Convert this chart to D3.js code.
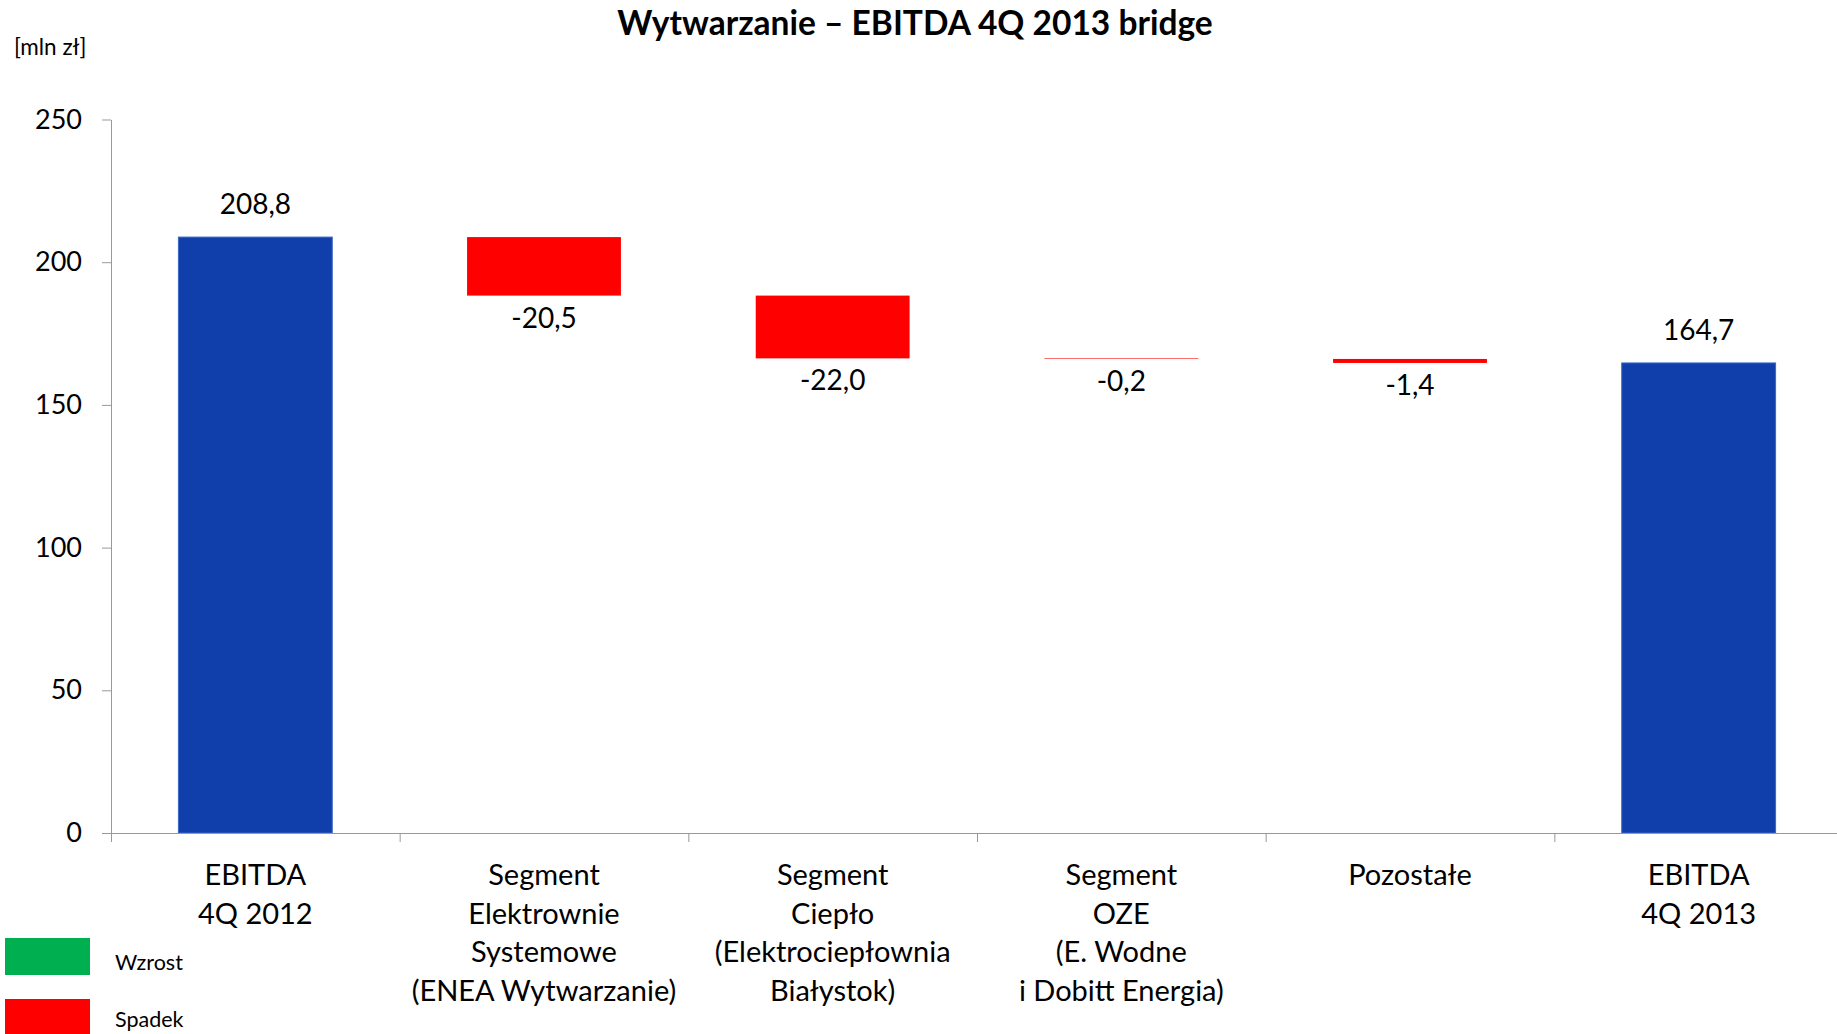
<!DOCTYPE html>
<html>
<head>
<meta charset="utf-8">
<script src="https://cdn.jsdelivr.net/npm/d3@7"></script>
<style>
body{margin:0;background:#fff;}
text{font-family:Lato,"Open Sans",sans-serif;fill:#000;}
</style>
</head>
<body>
<div class="box"></div>
<script>
// dane
const categories=[
  ['EBITDA','4Q 2012'],
  ['Segment','Elektrownie','Systemowe','(ENEA Wytwarzanie)'],
  ['Segment','Ciepło','(Elektrociepłownia','Białystok)'],
  ['Segment','OZE','(E. Wodne','i Dobitt Energia)'],
  ['Pozostałe'],
  ['EBITDA','4Q 2013']
];
const values=[208.8,-20.5,-22.0,-0.2,-1.4,164.7];
const isTotal=[true,false,false,false,false,true];
const yTicks=[0,50,100,150,200,250];
const legendLabels=['Wzrost','Spadek'];

const W=1837,H=1034;
const margin={top:119.5,left:111,bottom:201};
const plotR=1843;
const svg=d3.select('.box').append('svg').attr('width',W).attr('height',H).style('background','white');

// waterfall: poczatek i koniec kazdego slupka
let run=0;
const bars=values.map((v,i)=>{
  let b;
  if(isTotal[i]){b={y0:0,y1:v};run=v;}
  else{b={y0:run,y1:run+v};run+=v;}
  b.v=v;b.i=i;b.total=isTotal[i];
  return b;
});

const x=d3.scaleBand().domain(d3.range(categories.length)).range([margin.left,plotR]).paddingInner(0.467).paddingOuter(0.2335);
const xb=d3.scaleLinear().domain([0,categories.length]).range([margin.left,plotR]);
const y=d3.scaleLinear().domain([0,250]).range([H-margin.bottom,margin.top]);

const fmt=v=>d3.format('.1f')(v).replace('.',',').replace('\u2212','-');

svg.selectAll('rect.bar')
  .data(bars)
  .enter()
  .append('rect')
  .attr('class','bar')
  .attr('x',d=>x(d.i))
  .attr('width',x.bandwidth())
  .attr('y',d=>y(Math.max(d.y0,d.y1)))
  .attr('height',d=>Math.abs(y(d.y0)-y(d.y1)))
  .attr('fill',d=>d.total?'#103FAB':(d.v<0?'#FF0000':'#00B050'))
  .attr('stroke',d=>d.total?'#3B67C8':'none')
  .attr('stroke-width',1);

// etykiety wartosci
svg.selectAll('text.val')
  .data(bars)
  .enter()
  .append('text')
  .attr('class','val')
  .attr('x',d=>x(d.i)+x.bandwidth()/2)
  .attr('y',d=>d.v>=0?y(Math.max(d.y0,d.y1))-23:y(Math.min(d.y0,d.y1))+32)
  .attr('text-anchor','middle')
  .style('font-size','28px')
  .text(d=>fmt(d.v));

// osie
const gY=svg.append('g').attr('transform',`translate(${margin.left},0)`);
gY.call(d3.axisLeft(y).tickValues(yTicks).tickSize(9).tickSizeOuter(0).tickPadding(20).tickFormat(d=>d));
gY.selectAll('text').style('font-size','27px').attr('fill','#000');
gY.selectAll('line,path').attr('stroke','#999');

const gX=svg.append('g').attr('transform',`translate(0,${y(0)})`);
gX.call(d3.axisBottom(xb).tickValues(d3.range(categories.length+1)).tickSize(9).tickSizeOuter(0).tickFormat(''));
gX.selectAll('line,path').attr('stroke','#999');

// etykiety kategorii
const cat=svg.selectAll('text.cat').data(categories).enter().append('text')
  .attr('class','cat')
  .attr('text-anchor','middle')
  .attr('x',(d,i)=>x(i)+x.bandwidth()/2)
  .attr('y',885)
  .style('font-size','29px');
cat.selectAll('tspan').data(d=>d).enter().append('tspan')
  .attr('x',function(){return this.parentNode.getAttribute('x');})
  .attr('dy',(d,i)=>i?38.7:0)
  .text(d=>d);

// tytul
svg.append('text').attr('x',915).attr('y',35).attr('text-anchor','middle')
  .style('font-size','33.5px').style('font-weight','bold')
  .text('Wytwarzanie – EBITDA 4Q 2013 bridge');
svg.append('text').attr('x',14).attr('y',55).style('font-size','22.5px').text('[mln zł]');

// legenda
const leg=svg.selectAll('g.leg').data(legendLabels).enter().append('g').attr('class','leg')
  .attr('transform',(d,i)=>`translate(5,${938+i*61})`);
leg.append('rect').attr('width',85).attr('height',37).attr('fill',(d,i)=>i?'#FF0000':'#00B050');
leg.append('text').attr('x',110).attr('y',(d,i)=>i?28:32).style('font-size','21.5px').text(d=>d);
</script>
</body>
</html>
